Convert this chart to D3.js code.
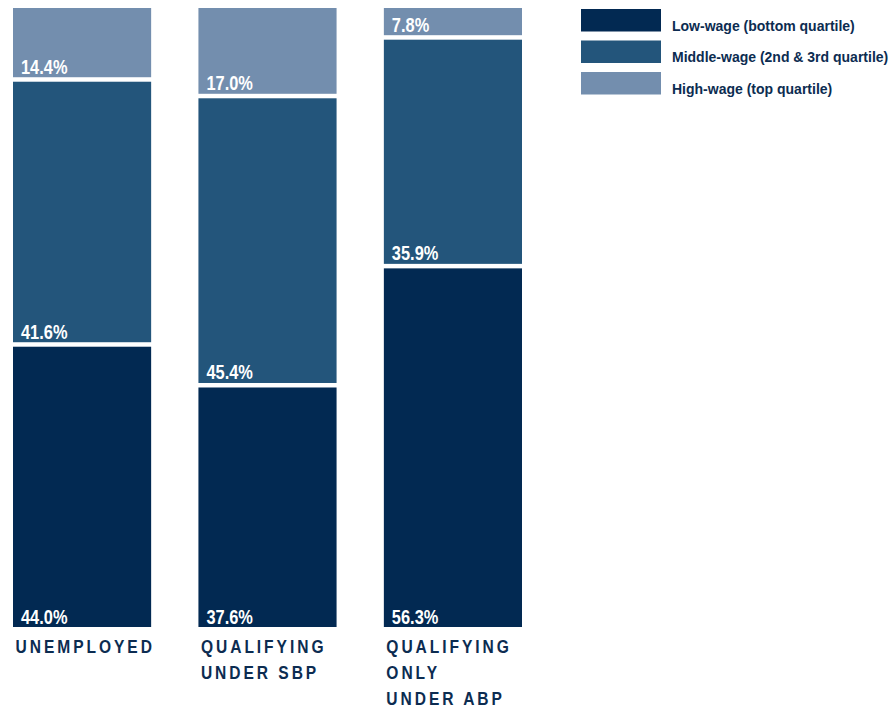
<!DOCTYPE html>
<html>
<head>
<meta charset="utf-8">
<script src="https://cdn.jsdelivr.net/npm/d3@7"></script>
<style>
  html, body { margin: 0; padding: 0; background: #ffffff; }
  svg { display: block; }
</style>
</head>
<body>
<svg id="chart" width="890" height="711"></svg>
<script>
// ---- data ----
const categories = ["UNEMPLOYED", "QUALIFYING UNDER SBP", "QUALIFYING ONLY UNDER ABP"];
const categoryLines = [["UNEMPLOYED"], ["QUALIFYING", "UNDER SBP"], ["QUALIFYING", "ONLY", "UNDER ABP"]];
const seriesNames = ["Low-wage (bottom quartile)", "Middle-wage (2nd & 3rd quartile)", "High-wage (top quartile)"];
const lowWage = [44.0, 37.6, 56.3];
const middleWage = [41.6, 45.4, 35.9];
const highWage = [14.4, 17.0, 7.8];
const colors = ["#022952", "#23557b", "#738eae"];

// ---- layout ----
const svg = d3.select("#chart");
const plotTop = 8, plotBottom = 627;
const gap = 4.5;
const narrow = 0.82; // condensed face emulation

const x = d3.scaleBand()
  .domain(categories)
  .range([13, 522])
  .paddingInner(0.255)
  .paddingOuter(0);

const y = d3.scaleLinear().domain([0, 100]).range([plotBottom, -10]);

const rows = categories.map((c, i) => ({ cat: c, low: lowWage[i], mid: middleWage[i], high: highWage[i] }));
const stacked = d3.stack().keys(["low", "mid", "high"])(rows);

svg.append("defs").append("clipPath").attr("id", "plotclip")
  .append("rect").attr("x", 0).attr("y", plotTop).attr("width", 560).attr("height", plotBottom - plotTop);

const g = svg.append("g").attr("clip-path", "url(#plotclip)");

stacked.forEach((layer, li) => {
  g.selectAll(null)
    .data(layer)
    .join("rect")
    .attr("x", d => x(d.data.cat))
    .attr("width", x.bandwidth())
    .attr("y", d => y(d[1]))
    .attr("height", d => Math.max(0, y(d[0]) - y(d[1]) - (li === 0 ? 0 : gap)))
    .attr("fill", colors[li]);
});

// value labels
const labels = svg.append("g");
stacked.forEach((layer, li) => {
  labels.selectAll(null)
    .data(layer)
    .join("text")
    .attr("transform", d => `translate(${x(d.data.cat) + 8},${y(d[0]) - (li === 0 ? 0 : gap) - 3.5}) scale(${narrow},1)`)
    .attr("fill", "#ffffff")
    .attr("font-family", "'Liberation Sans', Arial, sans-serif")
    .attr("font-weight", "bold")
    .attr("font-size", 20)
    .text(d => (d[1] - d[0]).toFixed(1) + "%");
});

// category labels
const cats = svg.append("g");
categories.forEach((c, i) => {
  const t = cats.append("text")
    .attr("transform", `translate(${x(c) + 2.5},653) scale(${narrow},1)`)
    .attr("fill", "#0c2c51")
    .attr("font-family", "'Liberation Sans', Arial, sans-serif")
    .attr("font-weight", "bold")
    .attr("font-size", 19)
    .attr("letter-spacing", 3.6);
  categoryLines[i].forEach((line, j) => {
    t.append("tspan").attr("x", 0).attr("dy", j === 0 ? 0 : 26).text(line);
  });
});

// legend
const legend = svg.append("g");
const legendY = d3.scalePoint().domain(seriesNames).range([9, 72]);
legend.selectAll("rect")
  .data(seriesNames)
  .join("rect")
  .attr("x", 581)
  .attr("y", d => legendY(d))
  .attr("width", 80)
  .attr("height", 22.5)
  .attr("fill", (d, i) => colors[i]);
legend.selectAll("text")
  .data(seriesNames)
  .join("text")
  .attr("x", 672)
  .attr("y", d => legendY(d) + 21.5)
  .attr("fill", "#0c2c51")
  .attr("font-family", "'Liberation Sans', Arial, sans-serif")
  .attr("font-weight", "bold")
  .attr("font-size", 14)
  .text(d => d);
</script>
</body>
</html>
